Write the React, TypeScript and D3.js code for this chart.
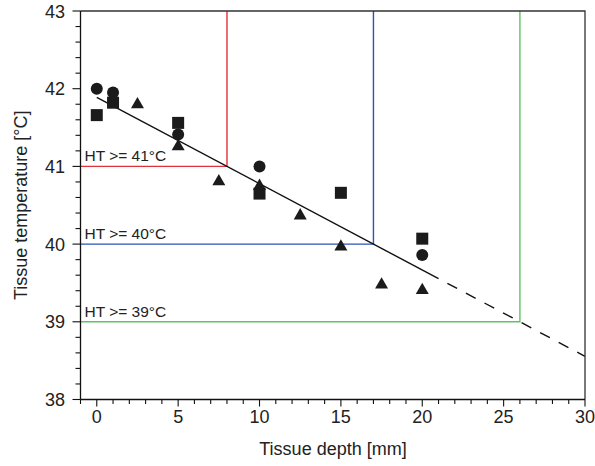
import React from "react";
import * as d3 from "d3";

const circleX = [0, 1, 5, 10, 20];
const circleY = [42.0, 41.95, 41.41, 41.0, 39.86];
const squareX = [0, 1, 5, 10, 15, 20];
const squareY = [41.66, 41.82, 41.56, 40.65, 40.66, 40.07];
const triangleX = [2.5, 5, 7.5, 10, 12.5, 15, 17.5, 20];
const triangleY = [41.81, 41.27, 40.82, 40.76, 40.38, 39.98, 39.49, 39.42];

const fitIntercept = 41.889;
const fitSlope = -1 / 9;
const fitSolidEnd = 21;
const fitEnd = 30;

const thresholds = [41, 40, 39];
const thresholdLabels = ["HT >= 41°C", "HT >= 40°C", "HT >= 39°C"];
const thresholdColors = ["#e0323c", "#2a55b5", "#5cc466"];

const xTicks = [0, 5, 10, 15, 20, 25, 30];
const yTicks = [38, 39, 40, 41, 42, 43];

const W = 595;
const H = 466;
const FONT = "Liberation Sans, Arial, Helvetica, sans-serif";

export default function App() {
  const x = d3.scaleLinear().domain([-1, 30]).range([80.5, 585]);
  const y = d3.scaleLinear().domain([38, 43]).range([399.5, 11]);
  const fit = (v: number) => fitIntercept + fitSlope * v;
  const crossX = (t: number) => (t - fitIntercept) / fitSlope;

  const xMinor = d3.range(-1, 31, 1);
  const yMinor = d3.range(38, 43.001, 0.2);

  const line = d3.line<number>().x((d) => x(d)).y((d) => y(fit(d)));

  const triPath = (cx: number, cy: number) => {
    const s = 6.5;
    return `M${cx},${cy - s}L${cx + s},${cy + s * 0.75}L${cx - s},${cy + s * 0.75}Z`;
  };

  return (
    <svg width={W} height={H} style={{ position: "absolute", left: 0, top: 0 }}>
      <rect width={W} height={H} fill="#fff" />
      {thresholds.map((t, i) => {
        const cx = crossX(t);
        return (
          <g key={"th" + i}>
            <path
              d={`M${x(-1)},${y(t)}H${x(cx)}V${y(43)}`}
              fill="none"
              stroke={thresholdColors[i]}
              strokeWidth={1.4}
            />
            <text
              x={x(-1) + 4}
              y={y(t) - 5}
              fontFamily={FONT}
              fontSize={15.5}
              fill="#222"
            >
              {thresholdLabels[i]}
            </text>
          </g>
        );
      })}
      <path d={line([0, fitSolidEnd]) || ""} fill="none" stroke="#111" strokeWidth={1.4} />
      <path
        d={line([fitSolidEnd, fitEnd]) || ""}
        fill="none"
        stroke="#111"
        strokeWidth={1.4}
        strokeDasharray="11,10"
        strokeDashoffset={-10}
      />
      {squareX.map((v, i) => (
        <rect key={"s" + i} x={x(v) - 6} y={y(squareY[i]) - 6} width={12} height={12} fill="#1b1b1b" />
      ))}
      {circleX.map((v, i) => (
        <circle key={"c" + i} cx={x(v)} cy={y(circleY[i])} r={6} fill="#1b1b1b" />
      ))}
      {triangleX.map((v, i) => (
        <path key={"t" + i} d={triPath(x(v), y(triangleY[i]))} fill="#1b1b1b" />
      ))}
      <path d={`M${x(-1)},${y(43)}H${x(30)}V${y(38)}`} fill="none" stroke="#333" strokeWidth={1.3} />
      <line x1={x(-1)} x2={x(30)} y1={y(38)} y2={y(38)} stroke="#111" strokeWidth={1.3} />
      <line x1={x(-1)} x2={x(-1)} y1={y(38)} y2={y(43)} stroke="#111" strokeWidth={1.3} />
      {xMinor.map((v) => (
        <line key={"xm" + v} x1={x(v)} x2={x(v)} y1={y(38)} y2={y(38) + (v % 5 === 0 ? 7 : 4.5)} stroke="#111" strokeWidth={1.1} />
      ))}
      {yMinor.map((v, i) => (
        <line key={"ym" + i} x1={x(-1) - (i % 5 === 0 ? 8 : 5)} x2={x(-1)} y1={y(v)} y2={y(v)} stroke="#111" strokeWidth={1.1} />
      ))}
      {xTicks.map((v) => (
        <text key={"xt" + v} x={x(v)} y={423} textAnchor="middle" fontFamily={FONT} fontSize={18} fill="#222">
          {v}
        </text>
      ))}
      {yTicks.map((v) => (
        <text key={"yt" + v} x={65} y={y(v) + 6.5} textAnchor="end" fontFamily={FONT} fontSize={18} fill="#222">
          {v}
        </text>
      ))}
      <text x={333} y={455} textAnchor="middle" fontFamily={FONT} fontSize={18} fill="#222">
        Tissue depth [mm]
      </text>
      <text
        transform={`translate(27,${y(40.5)}) rotate(-90)`}
        textAnchor="middle"
        fontFamily={FONT}
        fontSize={18}
        fill="#222"
      >
        Tissue temperature [°C]
      </text>
    </svg>
  );
}
